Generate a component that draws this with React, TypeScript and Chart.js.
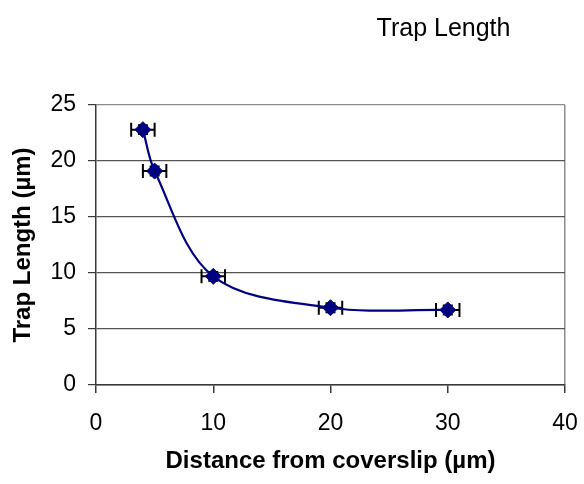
import React, { useEffect, useRef } from "react";
import { Chart, registerables } from "chart.js";

Chart.register(...registerables);

// Measured trap length against distance from the coverslip
const distance = [4, 5, 10, 20, 30];
const trapLength = [22.8, 19.1, 9.7, 6.9, 6.7];
const distanceErr = [1, 1, 1, 1, 1];
const lengthErr = [0.4, 0.4, 0.4, 0.4, 0.4];

const xTicks = [0, 10, 20, 30, 40];
const yTicks = [0, 5, 10, 15, 20, 25];

const chartTitle = "Trap Length";
const xTitle = "Distance from coverslip (µm)";
const yTitle = "Trap Length (µm)";

const FONT = "'Liberation Sans', Arial, Helvetica, sans-serif";

// Horizontal and vertical error bars with end caps, drawn under the series
const errorBarsPlugin = {
  id: "errorBars",
  beforeDatasetsDraw(chart: any) {
    const { ctx, scales } = chart;
    const xs = scales.x;
    const ys = scales.y;
    ctx.save();
    ctx.strokeStyle = "#000";
    ctx.lineWidth = 2;
    distance.forEach((d, i) => {
      const v = trapLength[i];
      const px = xs.getPixelForValue(d);
      const py = ys.getPixelForValue(v);
      const xl = xs.getPixelForValue(d - distanceErr[i]);
      const xr = xs.getPixelForValue(d + distanceErr[i]);
      const yt = ys.getPixelForValue(v + lengthErr[i]);
      const yb = ys.getPixelForValue(v - lengthErr[i]);
      const capX = 7;
      const capY = 5;
      ctx.beginPath();
      ctx.moveTo(xl, py);
      ctx.lineTo(xr, py);
      ctx.moveTo(xl, py - capX);
      ctx.lineTo(xl, py + capX);
      ctx.moveTo(xr, py - capX);
      ctx.lineTo(xr, py + capX);
      ctx.moveTo(px, yt);
      ctx.lineTo(px, yb);
      ctx.moveTo(px - capY, yt);
      ctx.lineTo(px + capY, yt);
      ctx.moveTo(px - capY, yb);
      ctx.lineTo(px + capY, yb);
      ctx.stroke();
    });
    ctx.restore();
  },
};

// Chart heading, set to the right of the plot's centre
const headingPlugin = {
  id: "heading",
  afterDraw(chart: any) {
    const { ctx } = chart;
    ctx.save();
    ctx.fillStyle = "#000";
    ctx.font = `25px ${FONT}`;
    ctx.textAlign = "center";
    ctx.textBaseline = "alphabetic";
    ctx.fillText(chartTitle, 443.5, 36);
    ctx.restore();
  },
};

export default function App() {
  const canvasRef = useRef<HTMLCanvasElement | null>(null);

  useEffect(() => {
    if (!canvasRef.current) return;
    Chart.defaults.font.family = FONT;
    Chart.defaults.color = "#000";

    const chart = new Chart(canvasRef.current, {
      type: "line",
      data: {
        datasets: [
          {
            label: yTitle,
            data: distance.map((d, i) => ({ x: d, y: trapLength[i] })),
            borderColor: "#000080",
            backgroundColor: "#000080",
            borderWidth: 2.2,
            tension: 0.34,
            pointStyle: "rectRot",
            pointRadius: 8,
            pointBorderWidth: 1,
            pointBackgroundColor: "#000080",
            pointBorderColor: "#000080",
          },
        ],
      },
      options: {
        animation: false,
        responsive: false,
        devicePixelRatio: 1,
        layout: { padding: { top: 105, right: 19, left: 0, bottom: 0 } },
        plugins: {
          legend: { display: false },
          tooltip: { enabled: false },
          title: { display: false },
        },
        scales: {
          x: {
            type: "linear",
            min: 0,
            max: 40,
            afterFit: (s: any) => {
              s.height = 99;
              s.paddingLeft = 0;
              s.paddingRight = 0;
            },
            afterBuildTicks: (s: any) => {
              s.ticks = xTicks.map((v) => ({ value: v }));
            },
            ticks: {
              font: { size: 23 },
              padding: 17,
              color: "#000",
            },
            grid: {
              drawOnChartArea: true,
              color: (c: any) => (c.tick && c.tick.value === 40 ? "#8c8c8c" : "rgba(0,0,0,0)"),
              tickColor: "#3a3a3a",
              tickLength: 8,
              lineWidth: 1.5,
            },
            border: { color: "#3a3a3a", width: 1.5 },
            title: {
              display: true,
              text: xTitle,
              font: { size: 24, weight: "bold" },
              padding: { top: 0, bottom: 8 },
              color: "#000",
            },
          },
          y: {
            type: "linear",
            min: 0,
            max: 25,
            afterFit: (s: any) => {
              s.width = 96;
              s.paddingTop = 0;
              s.paddingBottom = 0;
            },
            afterBuildTicks: (s: any) => {
              s.ticks = yTicks.map((v) => ({ value: v }));
            },
            ticks: {
              font: { size: 23 },
              padding: 12,
              color: "#000",
            },
            grid: {
              color: (c: any) => (c.tick && c.tick.value === 25 ? "#8c8c8c" : "#555"),
              tickColor: "#3a3a3a",
              tickLength: 8,
              lineWidth: 1.2,
            },
            border: { color: "#3a3a3a", width: 1.5 },
            title: {
              display: true,
              text: yTitle,
              font: { size: 24, weight: "bold" },
              padding: { top: 9, bottom: 0 },
              color: "#000",
            },
          },
        },
      },
      plugins: [errorBarsPlugin, headingPlugin],
    });

    return () => chart.destroy();
  }, []);

  return (
    <div style={{ position: "fixed", left: 0, top: 0, width: 584, height: 484, background: "#fff" }}>
      <canvas ref={canvasRef} width={584} height={484} style={{ width: 584, height: 484 }} />
    </div>
  );
}
